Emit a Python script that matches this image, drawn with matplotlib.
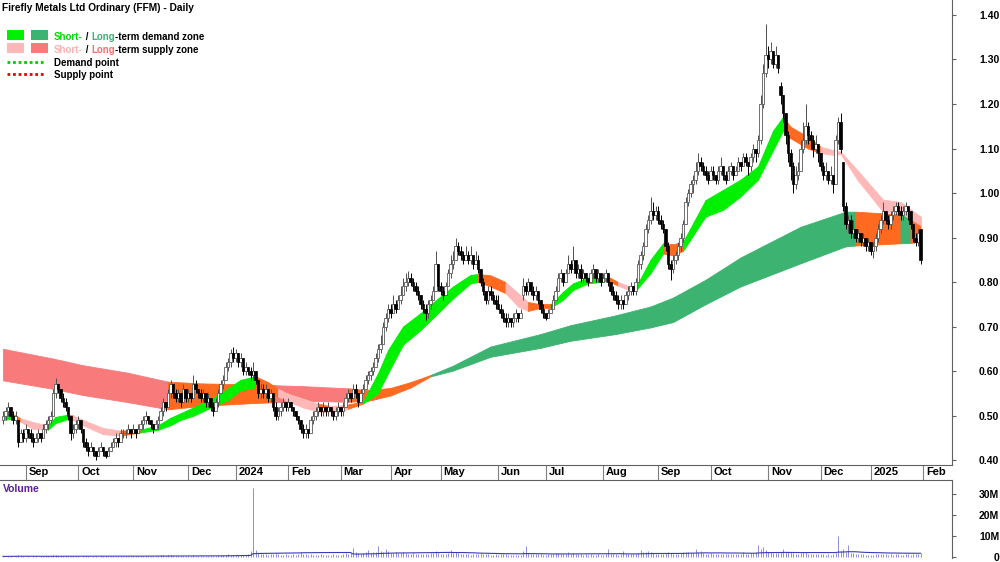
import matplotlib
matplotlib.use("Agg")
import matplotlib.pyplot as plt
import matplotlib.transforms as mtransforms
from matplotlib.patches import Rectangle
from matplotlib.lines import Line2D
import numpy as np
import pandas as pd

# ASX trading days (public holidays removed)
holidays = ['2023-12-25', '2023-12-26', '2024-01-01', '2024-01-26', '2024-03-29', '2024-04-01',
            '2024-04-25', '2024-06-10', '2024-12-25', '2024-12-26', '2025-01-01', '2025-01-27']
trading_days = pd.bdate_range("2023-08-21", "2025-02-28")
trading_days = trading_days[~trading_days.isin(pd.to_datetime(holidays))]

# daily OHLC
open_ = [0.49, 0.50, 0.51, 0.52, 0.50, 0.49, 0.49, 0.44, 0.46, 0.45,
         0.47, 0.46, 0.45, 0.44, 0.45, 0.46, 0.45, 0.47, 0.48, 0.49,
         0.50, 0.55, 0.57, 0.56, 0.54, 0.53, 0.52, 0.50, 0.46, 0.47,
         0.48, 0.49, 0.47, 0.44, 0.43, 0.42, 0.43, 0.42, 0.41, 0.42,
         0.43, 0.42, 0.41, 0.42, 0.43, 0.44, 0.45, 0.44, 0.46, 0.46,
         0.46, 0.47, 0.46, 0.47, 0.46, 0.47, 0.48, 0.49, 0.50, 0.49,
         0.48, 0.47, 0.48, 0.49, 0.51, 0.53, 0.52, 0.55, 0.57, 0.55,
         0.54, 0.55, 0.53, 0.56, 0.54, 0.55, 0.54, 0.57, 0.56, 0.55,
         0.54, 0.55, 0.53, 0.54, 0.52, 0.51, 0.53, 0.55, 0.57, 0.58,
         0.61, 0.62, 0.64, 0.63, 0.64, 0.62, 0.63, 0.60, 0.61, 0.60,
         0.59, 0.60, 0.58, 0.55, 0.56, 0.55, 0.56, 0.54, 0.55, 0.52,
         0.50, 0.51, 0.52, 0.53, 0.52, 0.53, 0.52, 0.51, 0.50, 0.49,
         0.47, 0.46, 0.47, 0.46, 0.49, 0.50, 0.51, 0.52, 0.51, 0.52,
         0.51, 0.52, 0.51, 0.50, 0.51, 0.52, 0.51, 0.52, 0.54, 0.55,
         0.54, 0.56, 0.55, 0.53, 0.55, 0.56, 0.58, 0.59, 0.60, 0.61,
         0.63, 0.65, 0.66, 0.70, 0.72, 0.74, 0.73, 0.75, 0.74, 0.76,
         0.77, 0.79, 0.80, 0.81, 0.80, 0.79, 0.78, 0.77, 0.75, 0.74,
         0.73, 0.75, 0.76, 0.78, 0.84, 0.79, 0.78, 0.77, 0.79, 0.82,
         0.84, 0.85, 0.88, 0.87, 0.86, 0.85, 0.86, 0.85, 0.86, 0.84,
         0.85, 0.83, 0.80, 0.78, 0.76, 0.78, 0.77, 0.76, 0.75, 0.74,
         0.73, 0.72, 0.71, 0.72, 0.71, 0.72, 0.73, 0.72, 0.77, 0.79,
         0.78, 0.80, 0.78, 0.77, 0.78, 0.76, 0.74, 0.73, 0.72, 0.73,
         0.74, 0.76, 0.78, 0.81, 0.82, 0.80, 0.82, 0.84, 0.83, 0.85,
         0.82, 0.83, 0.81, 0.82, 0.81, 0.80, 0.82, 0.83, 0.81, 0.82,
         0.80, 0.81, 0.82, 0.80, 0.78, 0.77, 0.76, 0.75, 0.76, 0.75,
         0.77, 0.78, 0.79, 0.78, 0.80, 0.84, 0.86, 0.88, 0.92, 0.94,
         0.96, 0.95, 0.96, 0.94, 0.93, 0.92, 0.88, 0.84, 0.83, 0.85,
         0.86, 0.88, 0.90, 0.93, 0.98, 1.00, 1.02, 1.03, 1.05, 1.07,
         1.06, 1.05, 1.04, 1.03, 1.05, 1.04, 1.03, 1.05, 1.06, 1.04,
         1.03, 1.05, 1.06, 1.04, 1.05, 1.07, 1.06, 1.08, 1.07, 1.06,
         1.08, 1.10, 1.09, 1.12, 1.20, 1.27, 1.31, 1.30, 1.32, 1.29,
         1.31, 1.24, 1.22, 1.18, 1.13, 1.09, 1.06, 1.02, 1.04, 1.05,
         1.10, 1.12, 1.15, 1.13, 1.12, 1.10, 1.11, 1.09, 1.06, 1.04,
         1.05, 1.03, 1.04, 1.02, 1.12, 1.16, 1.07, 0.97, 0.93, 0.94,
         0.91, 0.92, 0.90, 0.91, 0.89, 0.90, 0.88, 0.89, 0.87, 0.88,
         0.90, 0.92, 0.94, 0.96, 0.94, 0.93, 0.95, 0.96, 0.97, 0.96,
         0.95, 0.96, 0.97, 0.96, 0.93, 0.90, 0.89, 0.92]
high = [0.51, 0.52, 0.53, 0.52, 0.51, 0.51, 0.49, 0.47, 0.47, 0.48,
        0.47, 0.47, 0.46, 0.46, 0.47, 0.46, 0.48, 0.49, 0.50, 0.51,
        0.56, 0.585, 0.57, 0.56, 0.55, 0.54, 0.52, 0.50, 0.48, 0.49,
        0.50, 0.49, 0.47, 0.45, 0.44, 0.44, 0.43, 0.42, 0.43, 0.44,
        0.43, 0.42, 0.43, 0.44, 0.45, 0.46, 0.45, 0.47, 0.47, 0.47,
        0.48, 0.47, 0.48, 0.47, 0.48, 0.49, 0.50, 0.51, 0.50, 0.49,
        0.48, 0.49, 0.50, 0.52, 0.54, 0.53, 0.56, 0.58, 0.57, 0.56,
        0.56, 0.55, 0.57, 0.56, 0.56, 0.55, 0.59, 0.58, 0.56, 0.56,
        0.56, 0.55, 0.55, 0.54, 0.53, 0.54, 0.56, 0.58, 0.59, 0.62,
        0.63, 0.65, 0.655, 0.65, 0.64, 0.64, 0.63, 0.62, 0.61, 0.61,
        0.62, 0.60, 0.58, 0.57, 0.57, 0.57, 0.56, 0.56, 0.55, 0.53,
        0.52, 0.53, 0.54, 0.53, 0.54, 0.53, 0.52, 0.51, 0.50, 0.49,
        0.48, 0.48, 0.47, 0.50, 0.51, 0.52, 0.53, 0.52, 0.53, 0.52,
        0.53, 0.52, 0.51, 0.52, 0.53, 0.52, 0.53, 0.55, 0.56, 0.55,
        0.57, 0.57, 0.55, 0.56, 0.57, 0.59, 0.60, 0.61, 0.62, 0.64,
        0.66, 0.68, 0.71, 0.73, 0.75, 0.75, 0.77, 0.76, 0.77, 0.79,
        0.81, 0.82, 0.825, 0.82, 0.81, 0.80, 0.79, 0.77, 0.76, 0.75,
        0.76, 0.77, 0.79, 0.87, 0.84, 0.80, 0.79, 0.80, 0.83, 0.86,
        0.87, 0.90, 0.89, 0.88, 0.87, 0.88, 0.87, 0.88, 0.86, 0.87,
        0.86, 0.83, 0.81, 0.78, 0.79, 0.79, 0.78, 0.77, 0.77, 0.75,
        0.74, 0.73, 0.73, 0.72, 0.73, 0.74, 0.73, 0.74, 0.81, 0.80,
        0.81, 0.80, 0.79, 0.79, 0.78, 0.76, 0.75, 0.73, 0.74, 0.75,
        0.77, 0.79, 0.82, 0.83, 0.82, 0.83, 0.86, 0.85, 0.88, 0.85,
        0.84, 0.84, 0.83, 0.82, 0.81, 0.83, 0.84, 0.83, 0.83, 0.82,
        0.82, 0.83, 0.82, 0.80, 0.79, 0.78, 0.77, 0.77, 0.76, 0.78,
        0.79, 0.80, 0.79, 0.81, 0.85, 0.87, 0.89, 0.93, 0.95, 0.99,
        0.98, 0.97, 0.97, 0.95, 0.94, 0.92, 0.89, 0.85, 0.86, 0.87,
        0.89, 0.91, 0.94, 0.99, 1.01, 1.03, 1.04, 1.07, 1.09, 1.08,
        1.07, 1.06, 1.05, 1.06, 1.06, 1.04, 1.06, 1.08, 1.06, 1.05,
        1.06, 1.07, 1.06, 1.06, 1.08, 1.07, 1.09, 1.09, 1.07, 1.09,
        1.11, 1.10, 1.13, 1.22, 1.29, 1.38, 1.33, 1.34, 1.32, 1.33,
        1.31, 1.25, 1.22, 1.18, 1.14, 1.10, 1.07, 1.06, 1.07, 1.12,
        1.16, 1.20, 1.16, 1.14, 1.13, 1.13, 1.11, 1.09, 1.07, 1.07,
        1.05, 1.06, 1.04, 1.13, 1.17, 1.18, 1.07, 0.98, 0.95, 0.95,
        0.94, 0.92, 0.92, 0.91, 0.91, 0.90, 0.90, 0.89, 0.89, 0.91,
        0.93, 0.95, 0.98, 0.96, 0.95, 0.96, 0.97, 0.98, 0.98, 0.97,
        0.97, 0.98, 0.97, 0.96, 0.93, 0.91, 0.92, 0.92]
low = [0.48, 0.49, 0.50, 0.49, 0.48, 0.48, 0.43, 0.44, 0.44, 0.44,
       0.45, 0.44, 0.43, 0.44, 0.44, 0.44, 0.45, 0.46, 0.47, 0.48,
       0.50, 0.54, 0.55, 0.53, 0.52, 0.51, 0.49, 0.445, 0.45, 0.46,
       0.47, 0.46, 0.43, 0.42, 0.41, 0.42, 0.41, 0.40, 0.41, 0.42,
       0.41, 0.405, 0.41, 0.42, 0.43, 0.43, 0.43, 0.44, 0.45, 0.45,
       0.46, 0.45, 0.46, 0.45, 0.46, 0.47, 0.47, 0.48, 0.48, 0.47,
       0.46, 0.47, 0.47, 0.49, 0.50, 0.51, 0.52, 0.54, 0.54, 0.53,
       0.53, 0.52, 0.53, 0.53, 0.53, 0.53, 0.54, 0.55, 0.54, 0.53,
       0.53, 0.52, 0.52, 0.51, 0.50, 0.51, 0.52, 0.55, 0.56, 0.58,
       0.60, 0.61, 0.62, 0.62, 0.61, 0.61, 0.59, 0.59, 0.59, 0.58,
       0.58, 0.57, 0.54, 0.54, 0.54, 0.54, 0.53, 0.53, 0.51, 0.49,
       0.49, 0.50, 0.51, 0.51, 0.51, 0.51, 0.50, 0.49, 0.48, 0.46,
       0.45, 0.45, 0.45, 0.46, 0.48, 0.49, 0.50, 0.50, 0.50, 0.50,
       0.50, 0.50, 0.49, 0.49, 0.50, 0.50, 0.50, 0.52, 0.53, 0.53,
       0.54, 0.54, 0.52, 0.53, 0.55, 0.56, 0.57, 0.58, 0.59, 0.61,
       0.62, 0.64, 0.66, 0.69, 0.71, 0.72, 0.73, 0.73, 0.74, 0.75,
       0.77, 0.78, 0.79, 0.79, 0.78, 0.77, 0.76, 0.74, 0.73, 0.715,
       0.72, 0.74, 0.76, 0.78, 0.78, 0.77, 0.76, 0.77, 0.79, 0.81,
       0.83, 0.85, 0.86, 0.85, 0.84, 0.85, 0.84, 0.84, 0.83, 0.84,
       0.82, 0.79, 0.77, 0.75, 0.75, 0.76, 0.75, 0.74, 0.74, 0.72,
       0.71, 0.70, 0.70, 0.70, 0.70, 0.71, 0.71, 0.72, 0.76, 0.77,
       0.77, 0.77, 0.76, 0.76, 0.75, 0.73, 0.72, 0.715, 0.72, 0.73,
       0.74, 0.76, 0.78, 0.80, 0.79, 0.80, 0.82, 0.82, 0.83, 0.81,
       0.81, 0.80, 0.80, 0.80, 0.79, 0.80, 0.81, 0.80, 0.80, 0.79,
       0.80, 0.80, 0.79, 0.77, 0.76, 0.75, 0.74, 0.74, 0.74, 0.75,
       0.76, 0.77, 0.77, 0.77, 0.80, 0.83, 0.85, 0.88, 0.91, 0.93,
       0.94, 0.94, 0.93, 0.92, 0.91, 0.87, 0.83, 0.805, 0.82, 0.84,
       0.85, 0.87, 0.89, 0.93, 0.97, 0.99, 1.00, 1.02, 1.04, 1.05,
       1.04, 1.03, 1.02, 1.03, 1.03, 1.02, 1.02, 1.04, 1.03, 1.02,
       1.03, 1.04, 1.03, 1.04, 1.05, 1.05, 1.06, 1.06, 1.04, 1.05,
       1.07, 1.07, 1.08, 1.11, 1.19, 1.26, 1.28, 1.29, 1.28, 1.28,
       1.27, 1.20, 1.16, 1.11, 1.07, 1.03, 1.00, 1.01, 1.03, 1.05,
       1.09, 1.11, 1.11, 1.10, 1.08, 1.09, 1.07, 1.05, 1.03, 1.03,
       1.02, 1.02, 1.00, 1.02, 1.11, 1.09, 0.96, 0.92, 0.91, 0.90,
       0.90, 0.89, 0.89, 0.88, 0.88, 0.87, 0.87, 0.86, 0.855, 0.87,
       0.89, 0.91, 0.93, 0.93, 0.92, 0.92, 0.94, 0.95, 0.95, 0.94,
       0.94, 0.95, 0.94, 0.92, 0.89, 0.88, 0.88, 0.84]
close = [0.50, 0.51, 0.52, 0.50, 0.49, 0.50, 0.44, 0.46, 0.45, 0.47,
         0.46, 0.45, 0.44, 0.45, 0.46, 0.45, 0.47, 0.48, 0.49, 0.50,
         0.55, 0.57, 0.56, 0.54, 0.53, 0.52, 0.50, 0.46, 0.47, 0.48,
         0.49, 0.47, 0.44, 0.43, 0.42, 0.43, 0.42, 0.41, 0.42, 0.43,
         0.42, 0.41, 0.42, 0.43, 0.44, 0.45, 0.44, 0.46, 0.46, 0.46,
         0.47, 0.46, 0.47, 0.46, 0.47, 0.48, 0.49, 0.50, 0.49, 0.48,
         0.47, 0.48, 0.49, 0.51, 0.53, 0.52, 0.55, 0.57, 0.55, 0.54,
         0.55, 0.53, 0.56, 0.54, 0.55, 0.54, 0.57, 0.56, 0.55, 0.54,
         0.55, 0.53, 0.54, 0.52, 0.51, 0.53, 0.55, 0.57, 0.58, 0.61,
         0.62, 0.64, 0.63, 0.64, 0.62, 0.63, 0.60, 0.61, 0.60, 0.59,
         0.60, 0.58, 0.55, 0.56, 0.55, 0.56, 0.54, 0.55, 0.52, 0.50,
         0.51, 0.52, 0.53, 0.52, 0.53, 0.52, 0.51, 0.50, 0.49, 0.47,
         0.46, 0.47, 0.46, 0.49, 0.50, 0.51, 0.52, 0.51, 0.52, 0.51,
         0.52, 0.51, 0.50, 0.51, 0.52, 0.51, 0.52, 0.54, 0.55, 0.54,
         0.56, 0.55, 0.53, 0.55, 0.56, 0.58, 0.59, 0.60, 0.61, 0.63,
         0.65, 0.66, 0.70, 0.72, 0.74, 0.73, 0.75, 0.74, 0.76, 0.77,
         0.79, 0.80, 0.81, 0.80, 0.79, 0.78, 0.77, 0.75, 0.74, 0.73,
         0.75, 0.76, 0.78, 0.84, 0.79, 0.78, 0.77, 0.79, 0.82, 0.84,
         0.85, 0.88, 0.87, 0.86, 0.85, 0.86, 0.85, 0.86, 0.84, 0.85,
         0.83, 0.80, 0.78, 0.76, 0.78, 0.77, 0.76, 0.75, 0.74, 0.73,
         0.72, 0.71, 0.72, 0.71, 0.72, 0.73, 0.72, 0.73, 0.79, 0.78,
         0.80, 0.78, 0.77, 0.78, 0.76, 0.74, 0.73, 0.72, 0.73, 0.74,
         0.76, 0.78, 0.81, 0.82, 0.80, 0.82, 0.84, 0.83, 0.85, 0.82,
         0.83, 0.81, 0.82, 0.81, 0.80, 0.82, 0.83, 0.81, 0.82, 0.80,
         0.81, 0.82, 0.80, 0.78, 0.77, 0.76, 0.75, 0.76, 0.75, 0.77,
         0.78, 0.79, 0.78, 0.80, 0.84, 0.86, 0.88, 0.92, 0.94, 0.96,
         0.95, 0.96, 0.94, 0.93, 0.92, 0.88, 0.84, 0.83, 0.85, 0.86,
         0.88, 0.90, 0.93, 0.98, 1.00, 1.02, 1.03, 1.05, 1.07, 1.06,
         1.05, 1.04, 1.03, 1.05, 1.04, 1.03, 1.05, 1.06, 1.04, 1.03,
         1.05, 1.06, 1.04, 1.05, 1.07, 1.06, 1.08, 1.07, 1.06, 1.08,
         1.10, 1.09, 1.12, 1.20, 1.27, 1.31, 1.30, 1.32, 1.29, 1.31,
         1.28, 1.22, 1.18, 1.13, 1.09, 1.06, 1.02, 1.04, 1.05, 1.10,
         1.12, 1.15, 1.13, 1.12, 1.10, 1.11, 1.09, 1.06, 1.04, 1.05,
         1.03, 1.04, 1.02, 1.12, 1.16, 1.10, 0.97, 0.93, 0.94, 0.91,
         0.92, 0.90, 0.91, 0.89, 0.90, 0.88, 0.89, 0.87, 0.88, 0.90,
         0.92, 0.94, 0.96, 0.94, 0.93, 0.95, 0.96, 0.97, 0.96, 0.95,
         0.96, 0.97, 0.96, 0.93, 0.90, 0.89, 0.91, 0.85]
# daily volume, millions of shares
volume = [0.3, 0.2, 0.4, 0.3, 0.2, 0.3, 0.8, 0.4, 0.3, 0.2,
          0.3, 0.2, 0.3, 0.4, 0.2, 0.3, 0.3, 0.4, 0.3, 0.5,
          1.0, 0.9, 0.5, 0.4, 0.3, 0.3, 0.4, 0.6, 0.4, 0.3,
          0.3, 0.2, 0.4, 0.3, 0.3, 0.2, 0.3, 0.4, 0.2, 0.3,
          0.3, 0.4, 0.3, 0.3, 0.4, 0.5, 0.3, 0.4, 0.3, 0.3,
          0.4, 0.3, 0.3, 0.4, 0.3, 0.5, 0.6, 0.5, 0.4, 0.3,
          0.3, 0.4, 0.5, 0.7, 0.8, 0.5, 0.9, 1.0, 0.6, 0.5,
          0.4, 0.5, 0.6, 0.4, 0.5, 0.4, 0.8, 0.6, 0.4, 0.5,
          0.4, 0.5, 0.4, 0.5, 0.6, 0.4, 0.7, 0.9, 0.8, 1.0,
          1.2, 0.9, 1.1, 0.9, 0.8, 0.7, 0.9, 0.8, 1.5, 2.8,
          33.0, 3.5, 2.0, 1.5, 1.2, 1.4, 1.0, 1.3, 1.6, 1.8,
          1.2, 1.1, 1.0, 1.3, 0.9, 1.0, 1.2, 1.1, 1.4, 2.6,
          1.5, 1.2, 1.0, 1.3, 1.1, 1.0, 0.9, 1.2, 1.0, 1.1,
          0.9, 1.0, 1.2, 1.0, 1.1, 0.9, 1.2, 1.8, 1.5, 2.0,
          4.5, 2.2, 1.8, 1.5, 2.0, 2.4, 3.5, 1.9, 2.2, 2.6,
          5.0, 3.0, 2.5, 4.0, 2.8, 2.0, 1.8, 2.2, 1.9, 2.1,
          2.2, 1.8, 1.6, 1.5, 1.7, 1.4, 1.3, 1.5, 1.2, 1.6,
          1.4, 1.7, 1.9, 3.0, 2.0, 1.5, 1.3, 1.4, 1.8, 3.2,
          2.0, 2.4, 1.8, 1.5, 1.3, 1.2, 1.4, 1.1, 1.3, 1.2,
          1.5, 1.8, 1.6, 1.3, 1.2, 1.1, 1.0, 1.2, 1.1, 1.3,
          1.4, 1.2, 1.0, 1.1, 0.9, 1.0, 0.8, 1.0, 3.0, 5.2,
          2.0, 1.6, 1.4, 1.3, 1.5, 1.2, 1.1, 1.0, 1.2, 1.3,
          1.5, 1.7, 2.0, 1.6, 1.4, 1.6, 2.2, 1.5, 1.8, 1.4,
          1.3, 1.2, 1.1, 1.3, 1.0, 1.2, 1.1, 1.0, 1.2, 1.1,
          1.0, 1.2, 3.6, 1.4, 1.2, 1.3, 1.1, 1.5, 3.0, 1.6,
          1.3, 1.2, 1.4, 1.5, 2.0, 3.2, 2.4, 2.6, 2.8, 2.2,
          1.8, 1.6, 1.5, 1.4, 1.6, 2.0, 2.4, 1.8, 1.5, 1.4,
          1.6, 1.8, 2.2, 2.6, 2.4, 2.0, 1.8, 3.6, 2.2, 3.0,
          1.8, 1.6, 1.5, 1.7, 1.4, 1.3, 1.5, 1.6, 1.3, 1.2,
          1.4, 1.5, 1.2, 1.3, 1.4, 1.6, 2.6, 1.5, 1.4, 1.7,
          1.9, 2.4, 5.6, 4.0, 4.6, 3.2, 2.6, 2.2, 2.0, 1.8,
          2.0, 2.4, 3.6, 2.6, 2.2, 2.4, 2.0, 1.6, 1.5, 1.8,
          2.2, 2.5, 1.6, 1.4, 1.3, 1.2, 1.4, 1.3, 1.2, 1.1,
          1.2, 1.0, 1.3, 2.0, 10.2, 3.0, 4.0, 2.4, 5.6, 2.0,
          1.8, 1.6, 1.4, 1.3, 1.2, 1.0, 0.8, 0.9, 1.1, 1.3,
          1.2, 1.4, 1.5, 1.2, 1.1, 1.3, 1.0, 1.2, 1.4, 1.1,
          1.0, 1.2, 1.3, 1.1, 1.4, 1.2, 1.6, 2.0]

# long-term zone edges read at anchor days; state = colour of the segment that starts there
lt_idx = [0, 20, 32, 50, 66, 80, 100, 109, 120, 138, 146, 155, 163, 171, 180, 195, 215, 227,
          245, 259, 268, 281, 295, 319, 337, 341, 359, 363, 367]
lt_top = [0.650, 0.628, 0.613, 0.596, 0.576, 0.572, 0.570, 0.568, 0.566, 0.561, 0.557, 0.562,
          0.575, 0.591, 0.612, 0.655, 0.683, 0.703, 0.725, 0.745, 0.765, 0.805, 0.855, 0.924,
          0.958, 0.958, 0.952, 0.950, 0.946]
lt_bot = [0.579, 0.560, 0.546, 0.530, 0.514, 0.522, 0.528, 0.530, 0.533, 0.531, 0.533, 0.545,
          0.563, 0.588, 0.601, 0.632, 0.652, 0.668, 0.683, 0.698, 0.710, 0.750, 0.790, 0.842,
          0.880, 0.882, 0.887, 0.888, 0.890]
lt_state = ['ls', 'ls', 'ls', 'ls', 'n', 'n', 'n', 'ls', 'ls', 'n', 'n', 'n', 'n', 'ld', 'ld',
            'ld', 'ld', 'ld', 'ld', 'ld', 'ld', 'ld', 'ld', 'ld', 'ld', 'n', 'ld', 'n', 'n']

# short-term zone edges
st_idx = [0, 4, 7, 12, 18, 21, 26, 28, 32, 40, 47, 55, 62, 67, 71, 76, 84, 90, 95, 100, 101,
          106, 110, 114, 120, 126, 130, 134, 138, 144, 150, 154, 160, 167, 174, 180, 187, 190,
          195, 201, 206, 210, 215, 219, 224, 228, 234, 242, 246, 251, 253, 259, 264, 268, 272,
          281, 288, 295, 302, 308, 312, 315, 322, 327, 333, 335, 342, 352, 359, 367]
st_top = [0.502, 0.503, 0.494, 0.485, 0.478, 0.497, 0.502, 0.500, 0.490, 0.472, 0.466, 0.468,
          0.478, 0.495, 0.505, 0.518, 0.539, 0.561, 0.580, 0.587, 0.588, 0.575, 0.560, 0.549,
          0.538, 0.527, 0.522, 0.522, 0.525, 0.531, 0.595, 0.647, 0.700, 0.730, 0.763, 0.790,
          0.816, 0.818, 0.815, 0.800, 0.775, 0.755, 0.750, 0.750, 0.778, 0.797, 0.810, 0.812,
          0.800, 0.789, 0.787, 0.850, 0.887, 0.885, 0.890, 0.984, 1.007, 1.030, 1.060, 1.140,
          1.171, 1.149, 1.126, 1.104, 1.095, 1.093, 1.050, 0.985, 0.980, 0.947]
st_bot = [0.490, 0.493, 0.486, 0.470, 0.468, 0.483, 0.492, 0.490, 0.478, 0.458, 0.455, 0.462,
          0.468, 0.478, 0.490, 0.499, 0.520, 0.535, 0.557, 0.561, 0.566, 0.555, 0.543, 0.532,
          0.518, 0.509, 0.509, 0.507, 0.515, 0.527, 0.550, 0.595, 0.659, 0.692, 0.730, 0.763,
          0.797, 0.800, 0.790, 0.775, 0.745, 0.735, 0.742, 0.742, 0.760, 0.782, 0.797, 0.802,
          0.792, 0.781, 0.780, 0.820, 0.864, 0.860, 0.870, 0.947, 0.962, 0.992, 1.030, 1.096,
          1.140, 1.123, 1.100, 1.090, 1.085, 1.088, 1.028, 0.958, 0.955, 0.928]
st_state = ['sd', 'n', 'ss', 'ss', 'sd', 'sd', 'n', 'ss', 'ss', 'ss', 'n', 'sd', 'sd', 'sd', 'sd',
            'sd', 'sd', 'sd', 'sd', 'sd', 'n', 'n', 'ss', 'ss', 'ss', 'n', 'ss', 'ss', 'n', 'sd',
            'sd', 'sd', 'sd', 'sd', 'sd', 'sd', 'sd', 'n', 'n', 'ss', 'ss', 'n', 'n', 'sd', 'sd',
            'sd', 'sd', 'n', 'ss', 'ss', 'sd', 'sd', 'n', 'n', 'sd', 'sd', 'sd', 'sd', 'sd', 'sd',
            'n', 'n', 'n', 'ss', 'ss', 'ss', 'ss', 'ss', 'ss', 'ss']

zone_colors = {'sd': '#00f000', 'ld': '#3cb371', 'ss': '#ffb8b8', 'ls': '#f87a7a', 'n': '#ff6a20'}
label_font = dict(family=['Liberation Sans Narrow', 'Liberation Sans'], fontweight='bold')
text_font = dict(family=['Liberation Sans'], fontweight='bold')


def fx(px):
    return px / 1000


def fy(py):
    return 1 - py / 562


def draw_zone(ax, idx, top, bot, state):
    for k in range(len(idx) - 1):
        c = zone_colors[state[k]]
        ax.fill_between(idx[k:k + 2], top[k:k + 2], bot[k:k + 2], color=c, lw=0.6, zorder=1)


def draw_candles(ax, x, o, h, l, c):
    o, h, l, c = map(np.asarray, (o, h, l, c))
    up = c >= o
    ax.vlines(x[up], l[up], h[up], color='#505050', lw=0.7, zorder=3)
    ax.vlines(x[~up], l[~up], h[~up], color='black', lw=0.7, zorder=3)
    ax.bar(x[up], (c - o)[up], bottom=o[up], width=0.82, color='white', edgecolor='#5a5a5a', lw=0.6, zorder=4)
    ax.bar(x[~up], (o - c)[~up], bottom=c[~up], width=0.82, color='black', edgecolor='black', lw=0.5, zorder=4)


n = len(close)
x = np.arange(n)
month_pos = [i for i in range(1, len(trading_days)) if trading_days[i].month != trading_days[i - 1].month]
month_pos = [p for p in month_pos if p < 375]
month_lab = [trading_days[p].strftime('%Y') if trading_days[p].month == 1 else trading_days[p].strftime('%b')
             for p in month_pos]

fig = plt.figure(figsize=(10, 5.62), dpi=100)
ax = fig.add_axes([0, 1 - 465 / 562, 0.952, 465 / 562])
axv = fig.add_axes([0, 1 - 558 / 562, 0.952, 78 / 562])

draw_zone(ax, lt_idx, lt_top, lt_bot, lt_state)
draw_zone(ax, st_idx, st_top, st_bot, st_state)
draw_candles(ax, x, open_, high, low, close)

ax.set_xlim(-1.2, 379.6)
ax.set_ylim(0.3888, 1.4337)
for s in ['top', 'left']:
    ax.spines[s].set_visible(False)
ax.spines['right'].set_color('#606060')
ax.spines['bottom'].set_color('#606060')
ax.yaxis.tick_right()
ax.set_yticks(np.arange(0.4, 1.41, 0.1))
ax.set_yticklabels([f'{v:.2f}' for v in np.arange(0.4, 1.41, 0.1)], **label_font, fontsize=7.5)
for t in ax.get_yticklabels():
    t.set_horizontalalignment('right')
ax.tick_params(axis='y', length=3, pad=31, color='#606060')
ax.set_xticks(month_pos)
ax.tick_params(axis='x', length=11, color='#808080', labelbottom=False)
trans = mtransforms.blended_transform_factory(ax.transData, ax.transAxes) + \
    mtransforms.ScaledTranslation(3 / 100, 0, fig.dpi_scale_trans)
for p, lab in zip(month_pos, month_lab):
    ax.text(p, -0.004, lab, transform=trans, ha='left', va='top', fontsize=8, **label_font)

# volume panel
axv.vlines(x, 0, volume, color='#7b7bd6', lw=0.6)
axv.plot(x, pd.Series(volume).rolling(40, min_periods=1).mean(), color='#3a3ab8', lw=0.8)
axv.set_xlim(-1.2, 379.6)
axv.set_ylim(-0.5, 36.7)
axv.spines['left'].set_visible(False)
axv.spines['bottom'].set_visible(False)
axv.spines['top'].set_color('#606060')
axv.spines['right'].set_color('#606060')
axv.set_xticks([])
axv.yaxis.tick_right()
axv.set_yticks([0, 10, 20, 30])
axv.set_yticklabels(['0', '10M', '20M', '30M'], **label_font, fontsize=7.5)
for t in axv.get_yticklabels():
    t.set_horizontalalignment('right')
axv.tick_params(axis='y', length=3, pad=31, color='#606060')
axv.text(0.003, 0.95, 'Volume', transform=axv.transAxes, ha='left', va='top', color='#5b1f9e',
         fontsize=7.5, **label_font)

# title and legend
fig.text(fx(2), fy(13), 'Firefly Metals Ltd Ordinary (FFM) - Daily', ha='left', va='bottom',
         fontsize=7.3, **text_font)
for (px, py), col in zip([(7, 40), (31, 40), (7, 53), (31, 53)],
                         [zone_colors['sd'], zone_colors['ld'], zone_colors['ss'], zone_colors['ls']]):
    fig.add_artist(Rectangle((fx(px), fy(py)), 17 / 1000, 10 / 562, transform=fig.transFigure,
                             color=col, lw=0))
fig.add_artist(Line2D([fx(7), fx(45)], [fy(62), fy(62)], transform=fig.transFigure, color='#00cc00',
                      lw=2, linestyle=(0, (1, 1))))
fig.add_artist(Line2D([fx(7), fx(45)], [fy(74), fy(74)], transform=fig.transFigure, color='#ee0000',
                      lw=2, linestyle=(0, (1, 1))))


def legend_line(ypx, parts):
    t = fig.text(fx(54), fy(ypx), parts[0][0], color=parts[0][1], ha='left', va='bottom',
                 fontsize=7, **text_font)
    for s, c in parts[1:]:
        t = ax.annotate(s, xy=(1, 0), xycoords=t, ha='left', va='bottom', color=c,
                        fontsize=7, annotation_clip=False, **text_font)


legend_line(42, [('Short-', '#00dd00'), (' / ', 'black'), ('Long', '#3cb371'), ('-term demand zone', 'black')])
legend_line(55, [('Short-', '#ffb0b0'), (' / ', 'black'), ('Long', '#f87070'), ('-term supply zone', 'black')])
legend_line(68, [('Demand point', 'black')])
legend_line(80, [('Supply point', 'black')])

plt.savefig('out.png', dpi=100)
plt.close()
